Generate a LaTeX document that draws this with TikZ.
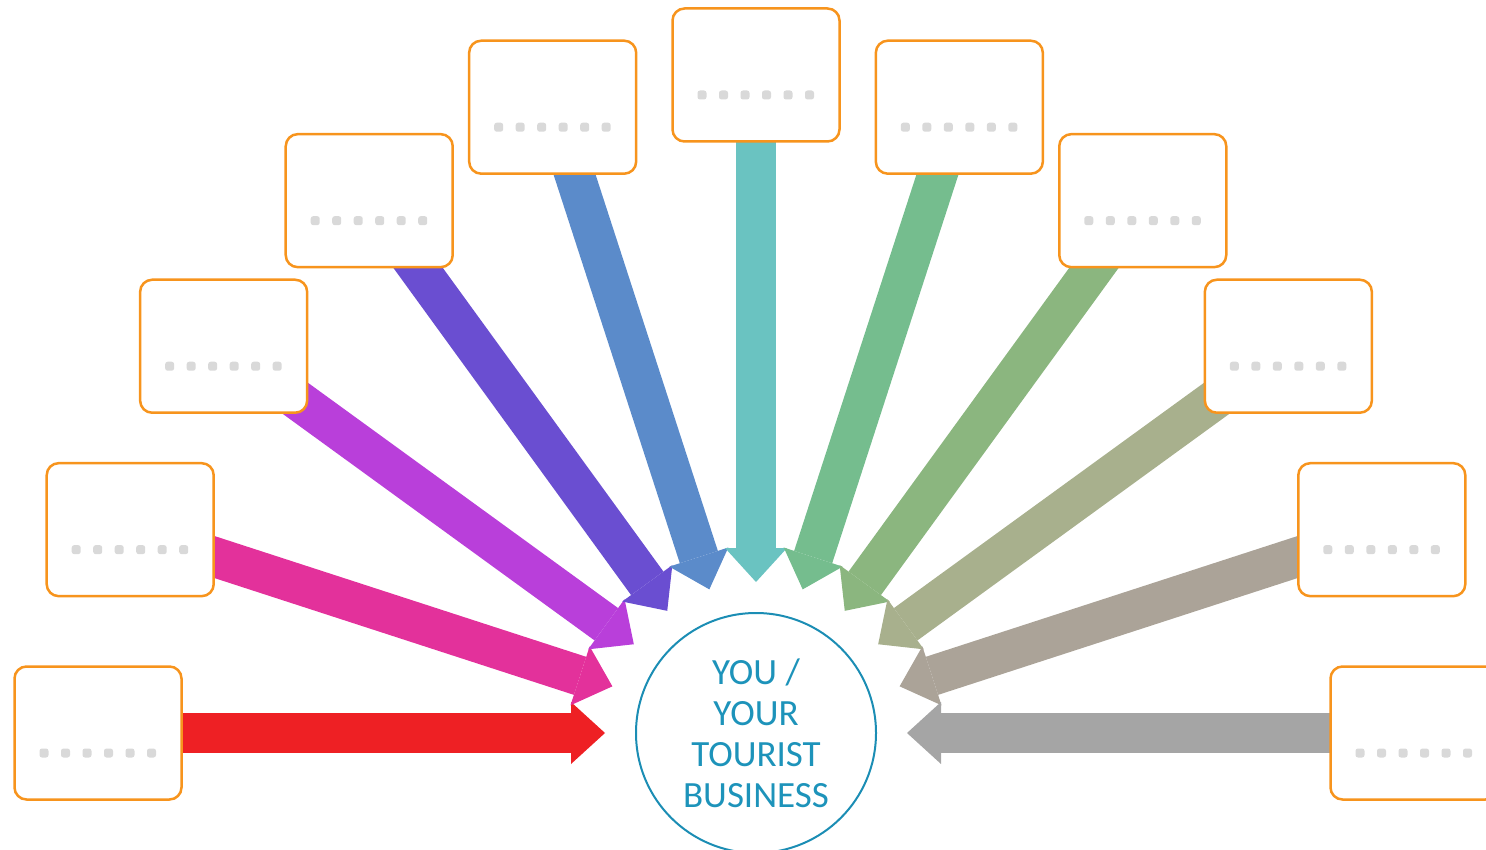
\documentclass[tikz,border=0pt]{standalone}
\usepackage{fontspec}
\setmainfont{Carlito}
\usetikzlibrary{arrows.meta,calc}
\pgfdeclarelayer{bg}
\pgfsetlayers{bg,main}
\definecolor{cRed}{HTML}{EE2024}
\definecolor{cPink}{HTML}{E3319B}
\definecolor{cPurp}{HTML}{B93FDA}
\definecolor{cViol}{HTML}{6A4ED1}
\definecolor{cBlue}{HTML}{5B8BCA}
\definecolor{cTeal}{HTML}{6AC3C1}
\definecolor{cGrn}{HTML}{75BD8E}
\definecolor{cLgrn}{HTML}{8BB67F}
\definecolor{cOliv}{HTML}{A8B08D}
\definecolor{cTaup}{HTML}{ABA398}
\definecolor{cGray}{HTML}{A5A5A5}
\definecolor{orng}{HTML}{F7941D}
\definecolor{dotc}{HTML}{D9D9D9}
\definecolor{ringc}{HTML}{1B8DB4}
\definecolor{txtc}{HTML}{1D93BA}
\begin{document}
\begin{tikzpicture}[x=1pt,y=-1pt,
  box/.style={draw=orng, line width=2.5pt, rounded corners=12pt, fill=white,
    minimum width=167pt, minimum height=133pt, inner sep=0pt},
  conn/.style={line width=40pt, -{Triangle[length=34pt,width=62pt,line width=0pt]}, shorten >=30pt},
  hub/.style={circle, draw=ringc, line width=2pt, minimum size=240pt, inner sep=0pt,
    align=center, text=txtc, font=\fontsize{37}{41}\selectfont},
  dot/.style={fill=dotc, rounded corners=2.5pt}]
\useasboundingbox (0,0) rectangle (1486,850);
\clip (0,0) rectangle (1486,850);
\node[hub] (c) at (756,733) {YOU /\\YOUR\\TOURIST\\BUSINESS};
\foreach \i in {1,...,11} {
  \pgfmathsetmacro\a{180-18*(\i-1)}
  \node[box] (b\i) at ({756+658*cos(\a)},{733-658*sin(\a)}) {};
  \foreach \k in {0,...,5}
    \fill[dot] ($(b\i.center)+({-58.5+21.5*\k},15.5)$) rectangle ++(9,9);
}
\begin{pgfonlayer}{bg}
\foreach \i/\col in {1/cRed,2/cPink,3/cPurp,4/cViol,5/cBlue,6/cTeal,7/cGrn,8/cLgrn,9/cOliv,10/cTaup,11/cGray}
  \draw[conn, \col] (b\i.center) -- (c);
\end{pgfonlayer}
\end{tikzpicture}
\end{document}
